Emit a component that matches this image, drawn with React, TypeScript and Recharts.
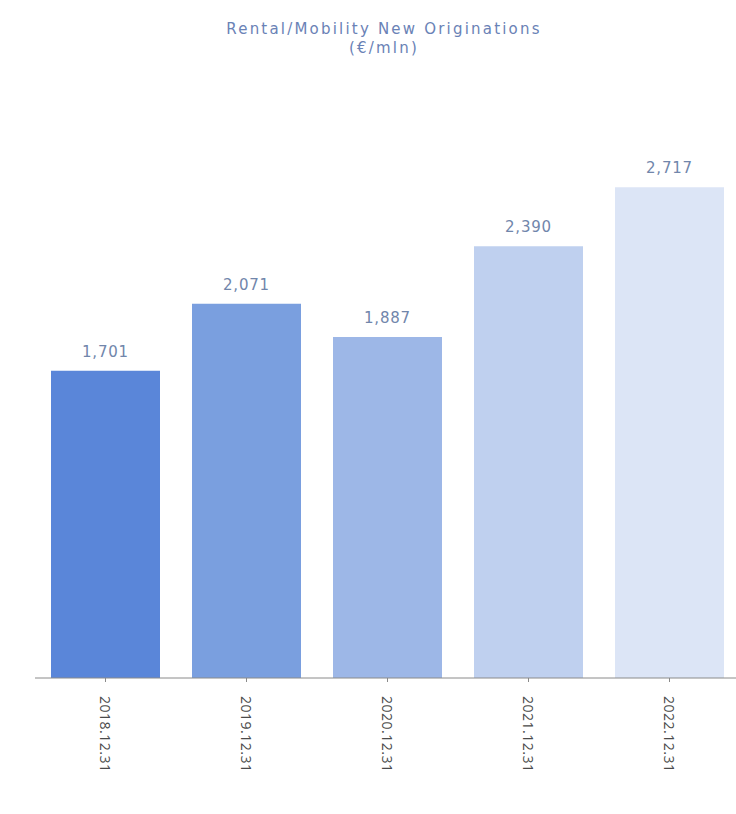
import React from "react";
import { BarChart, Bar, XAxis, YAxis, Cell, LabelList } from "recharts";

const categories = ["2018.12.31", "2019.12.31", "2020.12.31", "2021.12.31", "2022.12.31"];
const values = [1701, 2071, 1887, 2390, 2717];
const colors = ["#5a86d9", "#7a9fdf", "#9db7e7", "#bfd0ef", "#dce5f6"];

const data = categories.map((date, i) => ({ date, value: values[i] }));

const FONT = "'DejaVu Sans', 'Open Sans', sans-serif";

function RotatedTick({ x, y, payload }: { x?: number; y?: number; payload?: { value: string } }) {
  return (
    <text
      x={0}
      y={0}
      transform={`translate(${x}, ${(y ?? 0) + 12}) rotate(90)`}
      textAnchor="start"
      dominantBaseline="central"
      fontSize={14}
      fill="#4a4a4a"
      fontFamily="'Open Sans', sans-serif"
      letterSpacing={0.5}
    >
      {payload?.value}
    </text>
  );
}

export default function App() {
  return (
    <div style={{ position: "absolute", left: 0, top: 0, width: 736, height: 814, background: "#fff", overflow: "hidden" }}>
      <div
        style={{
          position: "absolute",
          left: 0,
          top: 20,
          width: 768,
          textAlign: "center",
          color: "#6a82b6",
          fontFamily: FONT,
          fontSize: 15,
          letterSpacing: 2.2,
          lineHeight: "19px",
        }}
      >
        Rental/Mobility New Originations
        <br />
        (€/mln)
      </div>
      <BarChart
        width={740}
        height={814}
        data={data}
        margin={{ top: 136, right: 0, left: 35, bottom: 0 }}
        barCategoryGap={16}
      >
        <XAxis
          dataKey="date"
          height={136}
          axisLine={{ stroke: "#8a8a8a" }}
          tickLine={{ stroke: "#8a8a8a" }}
          tickSize={4}
          interval={0}
          tick={<RotatedTick />}
        />
        <YAxis hide domain={[0, 3000]} />
        <Bar dataKey="value" isAnimationActive={false}>
          {data.map((d, i) => (
            <Cell key={d.date} fill={colors[i]} />
          ))}
          <LabelList
            dataKey="value"
            position="top"
            offset={14}
            formatter={(v: number) => v.toLocaleString("en-US")}
            style={{ fontSize: 15, fill: "#7186ab", fontFamily: FONT, letterSpacing: 0.8 }}
          />
        </Bar>
      </BarChart>
    </div>
  );
}
